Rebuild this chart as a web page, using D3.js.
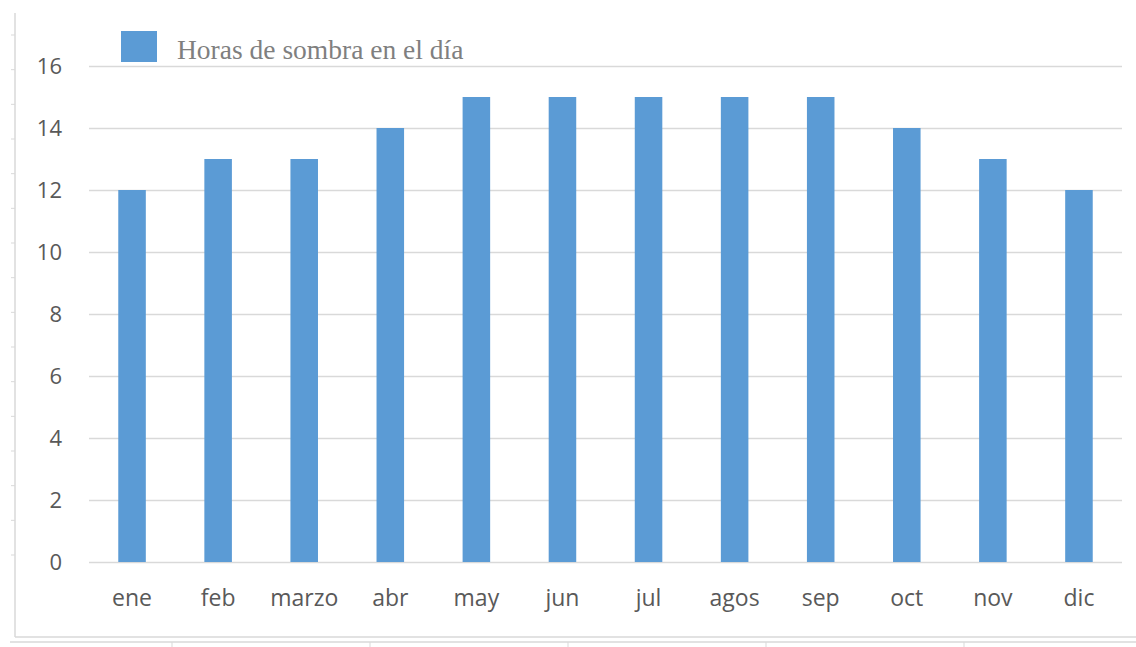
<!DOCTYPE html>
<html><head><meta charset="utf-8">
<script src="https://cdn.jsdelivr.net/npm/d3@7"></script>
<style>html,body{margin:0;padding:0;background:#fff;overflow:hidden}</style>
</head><body>
<svg id="c" width="1136" height="647"></svg>
<script>
const categories = ["ene","feb","marzo","abr","may","jun","jul","agos","sep","oct","nov","dic"];
const values = [12,13,13,14,15,15,15,15,15,14,13,12];
const yTicks = [0,2,4,6,8,10,12,14,16];
const seriesName = "Horas de sombra en el día";

const svg = d3.select("#c");
const W = 1136, H = 647;
const m = {left: 89, right: 14, top: 66, bottom: 85};

// outer frame artifacts
const frame = svg.append("g").attr("stroke", "#d9d9d9").attr("fill", "none");
frame.append("line").attr("x1", 15).attr("x2", 15).attr("y1", 13).attr("y2", 637).attr("stroke-width", 1.5);
frame.append("line").attr("x1", 15).attr("x2", W).attr("y1", 637).attr("y2", 637).attr("stroke-width", 1.5);
frame.append("line").attr("x1", 10).attr("x2", W).attr("y1", 642).attr("y2", 642).attr("stroke-width", 1.5);
const sideScale = d3.scaleLinear().domain([0, 15]).range([35, 555]);
frame.selectAll("line.lt").data(d3.range(16)).join("line").attr("class","lt")
  .attr("x1", 11).attr("x2", 15).attr("y1", d => sideScale(d)).attr("y2", d => sideScale(d));
const botScale = d3.scaleLinear().domain([0, 4]).range([172, 964]);
frame.selectAll("line.bt").data(d3.range(5)).join("line").attr("class","bt")
  .attr("x1", d => botScale(d)).attr("x2", d => botScale(d)).attr("y1", 642).attr("y2", 647);

const x = d3.scaleBand().domain(categories).range([m.left, W - m.right]).paddingInner(0.68).paddingOuter(0.34);
const y = d3.scaleLinear().domain([0, 16]).range([H - m.bottom, m.top]);

// gridlines
const yAxis = svg.append("g").attr("transform", `translate(${m.left},0)`)
  .call(d3.axisLeft(y).tickValues(yTicks).tickSize(-(W - m.right - m.left)).tickPadding(27));
yAxis.select(".domain").remove();
yAxis.selectAll(".tick line").attr("stroke", "#d9d9d9").attr("stroke-width", 1.5);
yAxis.selectAll(".tick text").attr("fill", "#595959").style("font-family", "'Open Sans', sans-serif").style("font-size", "22px").attr("dy", "0.36em");

// bars
svg.append("g").selectAll("rect").data(values).join("rect")
  .attr("x", (d, i) => x(categories[i]))
  .attr("width", x.bandwidth())
  .attr("y", d => y(d))
  .attr("height", d => y(0) - y(d))
  .attr("fill", "#5b9bd5");

// x axis labels
const xAxis = svg.append("g").attr("transform", `translate(0,${H - m.bottom})`)
  .call(d3.axisBottom(x).tickSize(0).tickPadding(28));
xAxis.select(".domain").remove();
xAxis.selectAll(".tick text").attr("fill", "#595959").style("font-family", "'Open Sans', sans-serif").style("font-size", "23px");

// legend
const lg = svg.append("g");
lg.append("rect").attr("x", 121).attr("y", 31).attr("width", 36).attr("height", 31).attr("fill", "#5b9bd5");
lg.append("text").attr("x", 177).attr("y", 59).text(seriesName)
  .attr("fill", "#7f7f7f").style("font-family", "'Liberation Serif', serif").style("font-size", "27.5px");
</script>
</body></html>
